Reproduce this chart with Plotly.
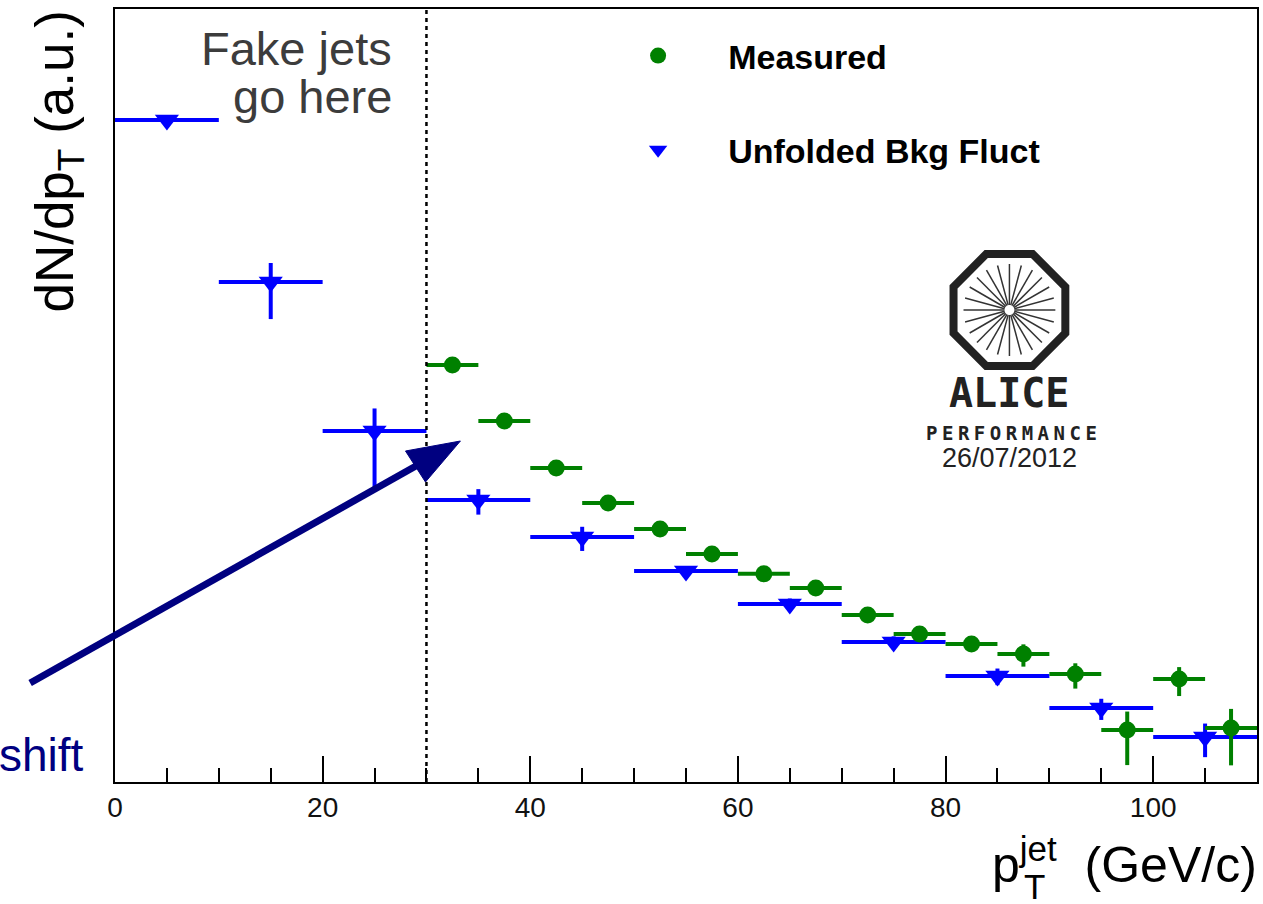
import numpy as np
import plotly.graph_objects as go

# ---------------- data ----------------
meas_pt = [32.5, 37.5, 42.5, 47.5, 52.5, 57.5, 62.5, 67.5, 72.5, 77.5,
           82.5, 87.5, 92.5, 97.5, 102.5, 107.5]
meas_y = [3.05e-2, 7.62e-3, 2.38e-3, 1.0e-3, 5.25e-4, 2.83e-4, 1.73e-4, 1.22e-4,
          6.25e-5, 3.90e-5, 3.05e-5, 2.38e-5, 1.45e-5, 3.62e-6, 1.28e-5, 3.81e-6]
meas_err = [6.1e-4, 2.3e-4, 9.5e-5, 5.0e-5, 3.2e-5, 2.0e-5, 1.4e-5, 1.2e-5,
            7.5e-6, 5.5e-6, 5.5e-6, 6.4e-6, 4.4e-6, 2.1e-6, 4.4e-6, 2.3e-6]
meas_halfbin = 2.5

unf_pt = [5, 15, 25, 35, 45, 55, 65, 75, 85, 95, 105]
unf_y = [13.1, 0.238, 5.94e-3, 1.08e-3, 4.30e-4, 1.86e-4, 8.20e-5, 3.20e-5,
         1.38e-5, 6.25e-6, 3.05e-6]
unf_err = [0.26, 0.143, 4.45e-3, 3.3e-4, 1.25e-4, 1.9e-5, 1.2e-5, 4.8e-6,
           2.8e-6, 1.6e-6, 1.2e-6]
unf_halfbin = 5

fake_cut = 30
x_range = [0, 110]
y_log_range = [-6, 2.312]

# ---------------- geometry helpers (pixels -> paper) ----------------
W, H = 1263, 904
PL, PR, PT, PB = 115, 1259, 9, 782


def px(x):
    return (x - PL) / (PR - PL)


def py(y):
    return (PB - y) / (PB - PT)


FONT = "Liberation Sans, Arial, sans-serif"
GREEN = "#008000"
BLUE = "#0000ff"
NAVY = "#000080"
NB = "\u00a0"
PAD = NB * 5 + "\u200a"

fig = go.Figure()

fig.add_trace(go.Scatter(
    x=unf_pt, y=unf_y, mode="markers", name=PAD + "Unfolded Bkg Fluct",
    legendrank=2, legendgroup="b",
    marker=dict(symbol="triangle-down", size=21, color=BLUE),
    error_x=dict(type="constant", value=unf_halfbin, thickness=4, width=0, color=BLUE),
    error_y=dict(type="data", array=unf_err, thickness=4, width=0, color=BLUE),
))
fig.add_trace(go.Scatter(
    x=meas_pt, y=meas_y, mode="markers", name=PAD + "Measured",
    legendrank=1, legendgroup="a",
    marker=dict(symbol="circle", size=17, color=GREEN),
    error_x=dict(type="constant", value=meas_halfbin, thickness=4, width=0, color=GREEN),
    error_y=dict(type="data", array=meas_err, thickness=4, width=0, color=GREEN),
))

shapes = []
# dotted cut line
shapes.append(dict(type="line", xref="x", yref="paper", x0=fake_cut, x1=fake_cut,
                   y0=0, y1=1, line=dict(color="black", width=2.5, dash="4px,4px")))
# arrow
shapes.append(dict(type="line", xref="paper", yref="paper",
                   x0=px(30), y0=py(683), x1=px(420), y1=py(464),
                   line=dict(color=NAVY, width=7)))
shapes.append(dict(type="path", xref="paper", yref="paper",
                   path=f"M{px(461)},{py(441)} L{px(406)},{py(451)} L{px(426)},{py(482)} Z",
                   fillcolor=NAVY, line=dict(color=NAVY, width=1)))

# ALICE logo: octagon + spokes
cx, cy = 1011, 310
R = 56 / np.cos(np.pi / 8)
angs = np.pi / 8 + np.arange(8) * np.pi / 4
pts = [(cx + R * np.cos(a), cy + R * np.sin(a)) for a in angs]
path = "M" + " L".join(f"{px(x)},{py(y)}" for x, y in pts) + " Z"
shapes.append(dict(type="path", xref="paper", yref="paper", path=path,
                   line=dict(color="#222222", width=8)))
for a in np.arange(24) * np.pi / 12:
    shapes.append(dict(type="line", xref="paper", yref="paper",
                       x0=px(cx + 5 * np.cos(a)), y0=py(cy + 5 * np.sin(a)),
                       x1=px(cx + 46 * np.cos(a)), y1=py(cy + 46 * np.sin(a)),
                       line=dict(color="#333333", width=1.5)))

annotations = [
    dict(text="Fake jets", xref="paper", yref="paper", x=px(394), y=py(20),
         xanchor="right", yanchor="top", align="right", showarrow=False,
         font=dict(family=FONT, size=47, color="#3c3c3c")),
    dict(text="go here", xref="paper", yref="paper", x=px(394), y=py(68),
         xanchor="right", yanchor="top", align="right", showarrow=False,
         font=dict(family=FONT, size=47, color="#3c3c3c")),
    dict(text="shift", xref="paper", yref="paper", x=px(86), y=py(755),
         xanchor="right", yanchor="middle", showarrow=False,
         font=dict(family=FONT, size=46, color=NAVY)),
    dict(text="dN/dp<sub>T</sub> (a.u.)", xref="paper", yref="paper", x=px(58), y=py(8),
         xanchor="center", yanchor="top", textangle=-90, showarrow=False,
         font=dict(family=FONT, size=53, color="black")),
    dict(text="p<sup>jet</sup>" + NB + " (GeV/c)", xref="paper", yref="paper",
         x=px(1261), y=py(861), xanchor="right", yanchor="middle", showarrow=False,
         font=dict(family=FONT, size=50, color="black")),
    dict(text="T", xref="paper", yref="paper", x=px(1036), y=py(886),
         xanchor="center", yanchor="middle", showarrow=False,
         font=dict(family=FONT, size=35, color="black")),
    dict(text="ALICE", xref="paper", yref="paper", x=px(1011), y=py(393),
         xanchor="center", yanchor="middle", showarrow=False,
         font=dict(family="DejaVu Sans Mono", size=40, color="#222222", weight="bold")),
    dict(text='<span style="letter-spacing:4.5px">PERFORMANCE</span>', xref="paper", yref="paper",
         x=px(1015), y=py(433), xanchor="center", yanchor="middle", showarrow=False,
         font=dict(family="DejaVu Sans Mono", size=19, color="#222222", weight="bold")),
    dict(text="26/07/2012", xref="paper", yref="paper", x=px(1011), y=py(458),
         xanchor="center", yanchor="middle", showarrow=False,
         font=dict(family=FONT, size=27, color="#222222")),
]

fig.update_layout(
    width=W, height=H, autosize=False,
    margin=dict(l=PL, r=W - PR, t=PT, b=H - PB, pad=0),
    paper_bgcolor="white", plot_bgcolor="white",
    showlegend=True,
    legend=dict(x=px(639), y=py(27), xanchor="left", yanchor="top",
                bgcolor="rgba(0,0,0,0)", tracegroupgap=47,
                font=dict(family=FONT, size=34, color="black", weight="bold")),
    shapes=shapes, annotations=annotations,
    xaxis=dict(range=x_range, showline=True, linecolor="black", linewidth=1.5, mirror=True,
               showgrid=False, zeroline=False, ticks="inside", ticklen=26, tickwidth=1.5,
               tickcolor="black", dtick=20, tick0=0,
               tickfont=dict(family=FONT, size=28, color="#111111"),
               minor=dict(ticks="inside", ticklen=14, tickwidth=1.5, tickcolor="black",
                          dtick=5, showgrid=False)),
    yaxis=dict(type="log", range=y_log_range, showline=True, linecolor="black",
               linewidth=1.5, mirror=True, showgrid=False, zeroline=False,
               showticklabels=False, ticks=""),
)

fig.write_html("out.html")
